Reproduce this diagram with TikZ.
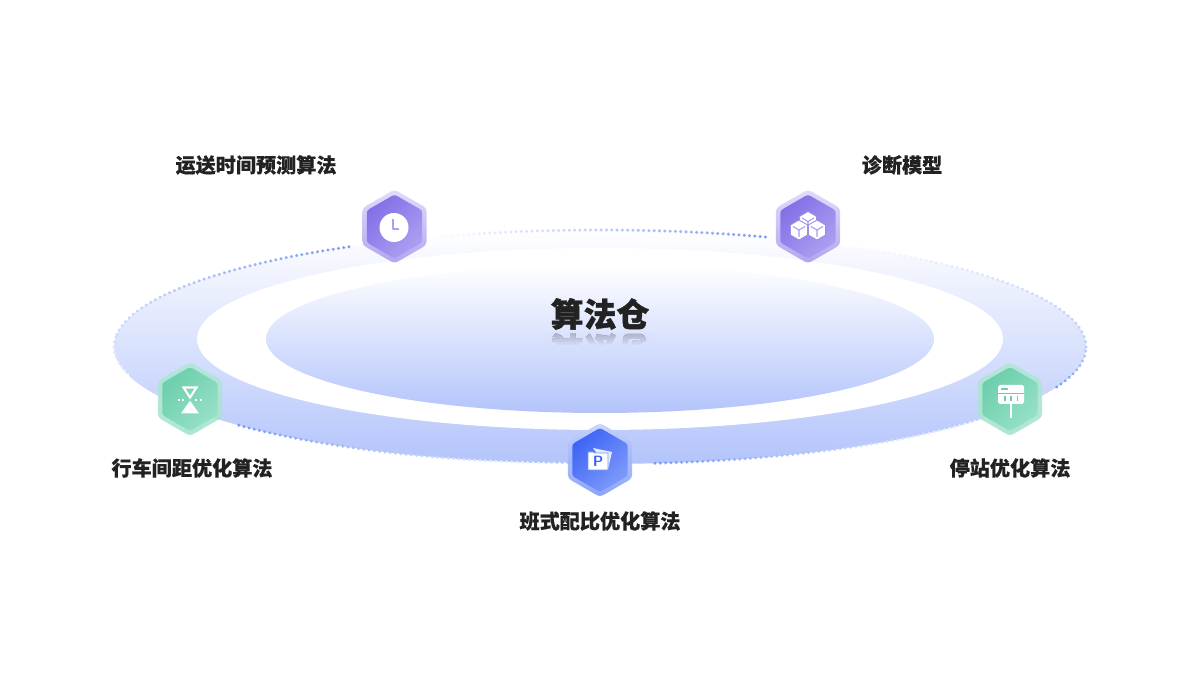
\documentclass[tikz,border=0pt]{standalone}
\usepackage{fontspec}
\newfontfamily\cjk{Noto Sans CJK SC}
\usetikzlibrary{shapes.geometric,decorations.markings,fadings}
\definecolor{dotblue}{HTML}{7B9BF5}
\definecolor{ringblue}{HTML}{B3C4FB}
\definecolor{labelgray}{HTML}{222222}
\definecolor{mirrorbg}{RGB}{217,225,253}
\definecolor{purpA}{HTML}{8370E6}
\definecolor{purpB}{HTML}{AD9FF1}
\definecolor{purpT}{HTML}{DED8FA}
\definecolor{purpD}{HTML}{AB9CF0}
\definecolor{greenA}{HTML}{6CCFAB}
\definecolor{greenB}{HTML}{97E0C7}
\definecolor{greenT}{HTML}{B2E6D5}
\definecolor{greenD}{HTML}{A4E3CE}
\definecolor{blueA}{HTML}{3E64F5}
\definecolor{blueB}{HTML}{7E9AFB}
\definecolor{blueT}{HTML}{C6D2FC}
\definecolor{blueD}{HTML}{7F9BFA}
\tikzset{
  hexout/.style n args={2}{regular polygon,regular polygon sides=6,shape border rotate=30,
    minimum size=1.48cm,inner sep=0pt,outer sep=0pt,rounded corners=2pt,
    top color=#1,bottom color=#2,opacity=.9},
  hexin/.style n args={2}{regular polygon,regular polygon sides=6,shape border rotate=30,
    minimum size=1.28cm,inner sep=0pt,outer sep=0pt,rounded corners=1.5pt,
    top color=#1,bottom color=#2,shading angle=45},
  algolabel/.style={font=\cjk\bfseries\addfontfeature{FakeBold=0.3}\fontsize{11.45}{13}\selectfont,text=labelgray},
  titlefont/.style={font=\cjk\bfseries\addfontfeature{FakeBold=1.2}\fontsize{18.7}{22}\selectfont},
  dotarc/.style n args={2}{postaction={decorate},decoration={markings,
    mark=between positions 0 and 1 step 0.106cm with {
      \pgfmathsetmacro\m{#1+(#2-#1)*(\pgfkeysvalueof{/pgf/decoration/mark info/distance from start}/\pgfdecoratedpathlength)}
      \fill[dotblue!\m!white] (0,0) circle (0.95pt);}}},
  boxpic/.pic={
    \filldraw[white,draw=purpA!80!white,line width=0.5pt] (90:10)--(150:10)--(210:10)--(270:10)--(330:10)--(30:10)--cycle;
    \draw[purpA!70!white,line width=0.6pt] (150:7)--(0,0)--(30:7) (0,0)--(270:7);
  }
}
\begin{document}
\begin{tikzpicture}[x=0.02cm,y=0.02cm]
    \useasboundingbox (0,0) rectangle (1200,675);
    \coordinate (ring) at (600,328);

    % rings
    \path[top color=white,bottom color=ringblue] (ring) ellipse (486 and 117);
    \fill[white] (600,336) ellipse (403 and 91);
    \path[top color=white,bottom color=ringblue] (600,336) ellipse (334 and 74);

    % dotted track, cut at the hexagons
    \foreach \from/\to/\ca/\cb in {121.1/175/100/35,175/195/35/0,222/266/100/0,276.5/325/100/0,340/360/100/50,0/60/50/0,70.1/110.5/100/0}
      \path[dotarc={\ca}{\cb}] (ring) ++(\from:486 and 117) arc[start angle=\from,end angle=\to,x radius=486,y radius=117];

    % title with its reflection
    \node[titlefont,text=labelgray,yscale=-1,text opacity=.28] (titlemirror) at (600,326) {算法仓};
    \fill[mirrorbg,path fading=north] (540,344) rectangle (660,329);
    \begin{scope}
      \clip (530,329.5) rectangle (670,300);
      \path[top color=white,bottom color=ringblue] (600,336) ellipse (334 and 74);
    \end{scope}
    \node[titlefont,text=labelgray] (title) at (600,361) {算法仓};

    % hexagons
    \foreach \n/\x/\y/\hue in {clock/394.5/448.5/purp,cubes/808/448.5/purp,gap/190/276/green,stop/1010/276/green,plan/600/215/blue}{
      \node[hexout={\hue T}{\hue D}] (\n out) at (\x,\y) {};
      \node[hexin={\hue A}{\hue B}] (\n) at (\x,\y) {};
    }

    % clock icon
    \begin{scope}[shift={(clock)}]
      \fill[white] (-0.5,-1) circle (14.5);
      \draw[purpB,line width=1.6pt,line join=round] (-1.5,7.5)--(-1.5,-2.5)--(4.5,-2.5);
    \end{scope}

    % cubes icon
    \begin{scope}[shift={(cubes)}]
      \pic at (0,5) {boxpic};
      \pic at (-9,-3.5) {boxpic};
      \pic at (9,-3.5) {boxpic};
    \end{scope}

    % headway icon
    \begin{scope}[shift={(gap)}]
      \draw[white,line width=1.2pt,line join=miter] (-6.5,11.5)--(6.5,11.5)--(0,1.5)--cycle;
      \fill[white] (-9,-14.5)--(9,-14.5)--(0,-1.7)--cycle;
      \foreach \d in {-11,-7,6,11} \fill[white] (\d-1.3,-2.3) rectangle (\d+1.3,0.3);
    \end{scope}

    % stop board icon
    \begin{scope}[shift={(stop)}]
      \fill[white,rounded corners=1pt] (-12,14) rectangle (14,-5);
      \draw[greenA,line width=0.6pt] (-12,5.5)--(14,5.5);
      \draw[greenA,line width=1pt] (-9,10)--(-2,10);
      \foreach \d in {-5,1,7.5} \draw[greenA,line width=0.8pt] (\d,3)--(\d,-2.5);
      \fill[white] (-0.2,-5) rectangle (2.2,-19);
    \end{scope}

    % plan icon
    \begin{scope}[shift={(plan)}]
      \fill[white,opacity=.85] (-7,12)--(12,8)--(8,-9)--cycle;
      \filldraw[white,draw=blueA!70!white,line width=0.4pt] (-12,8)--(-7,8)--(-5,7)--(8,7)--(8,-10)--(-12,-10)--cycle;
      \node[font=\sffamily\bfseries\fontsize{8.5}{10}\selectfont,text=blueA,inner sep=0pt] (pageP) at (-2,-1.5) {P};
    \end{scope}

    % labels
    \node[algolabel] (clocklabel) at (256,510) {运送时间预测算法};
    \node[algolabel] (cubeslabel) at (902,510) {诊断模型};
    \node[algolabel] (gaplabel) at (192,207) {行车间距优化算法};
    \node[algolabel] (stoplabel) at (1010,207) {停站优化算法};
    \node[algolabel] (planlabel) at (600,154) {班式配比优化算法};
\end{tikzpicture}
\end{document}
